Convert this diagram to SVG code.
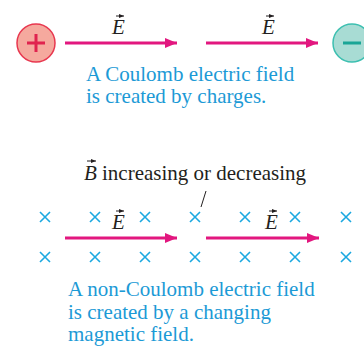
<svg xmlns="http://www.w3.org/2000/svg" width="364" height="348" viewBox="0 0 364 348">
<style>
text{font-family:'Liberation Serif','DejaVu Serif','Noto Serif',serif;font-size:21px}
.cap{fill:#1c9ad6}
.lbl{fill:#231f20}
.vec{font-style:italic;fill:#231f20}
.ar{stroke:#e2177f;stroke-width:3;fill:none}
.va{stroke:#231f20;stroke-width:1;fill:none}
.x{stroke:#1ba8e0;stroke-width:1.6;fill:none}
</style>
<defs>
<marker id="head" markerWidth="12" markerHeight="10" refX="12" refY="5" orient="auto" markerUnits="userSpaceOnUse">
<path d="M0,0 L12,5 L0,10 Z" fill="#e2177f"/>
</marker>
<marker id="vh" markerWidth="5" markerHeight="4" refX="5" refY="2" orient="auto" markerUnits="userSpaceOnUse">
<path d="M0,0 L5,2 L0,4 Z" fill="#231f20"/>
</marker>
<g id="xm"><path class="x" d="M-5,-5 L5,5 M5,-5 L-5,5"/></g>
</defs>

<g id="plus-charge">
<circle cx="36" cy="43" r="19" fill="#f5a99e" stroke="#e8374f" stroke-width="1.5"/>
<path d="M27,43 H45 M36,34 V52" stroke="#e0234e" stroke-width="3"/>
</g>
<g id="minus-charge">
<circle cx="352" cy="43" r="19" fill="#a8dcd4" stroke="#3cbfb0" stroke-width="1.5"/>
<path d="M343,43 H361" stroke="#1aa596" stroke-width="3"/>
</g>

<g id="connectors">
<line class="ar" x1="65" y1="43" x2="177" y2="43" marker-end="url(#head)"/>
<line class="ar" x1="206" y1="43" x2="318" y2="43" marker-end="url(#head)"/>
<line class="ar" x1="65" y1="238" x2="177" y2="238" marker-end="url(#head)"/>
<line class="ar" x1="206" y1="238" x2="319" y2="238" marker-end="url(#head)"/>
<line class="va" x1="206" y1="191" x2="201" y2="207"/>
</g>

<g id="e-labels">
<text class="vec" x="112" y="34">E</text>
<line class="va" x1="116" y1="16" x2="124" y2="16" marker-end="url(#vh)"/>
<text class="vec" x="262" y="34">E</text>
<line class="va" x1="266" y1="16" x2="274" y2="16" marker-end="url(#vh)"/>
<text class="vec" x="112" y="229">E</text>
<line class="va" x1="116" y1="211" x2="124" y2="211" marker-end="url(#vh)"/>
<text class="vec" x="265" y="229">E</text>
<line class="va" x1="269" y1="211" x2="277" y2="211" marker-end="url(#vh)"/>
</g>

<g id="caption-top">
<text class="cap" x="86" y="81">A Coulomb electric field</text>
<text class="cap" x="86" y="103">is created by charges.</text>
</g>

<g id="b-label">
<text class="vec" x="84" y="180">B</text>
<line class="va" x1="87" y1="161" x2="96" y2="161" marker-end="url(#vh)"/>
<text class="lbl" x="102" y="180">increasing or decreasing</text>
</g>

<g id="field-crosses">
<use href="#xm" x="45" y="217"/><use href="#xm" x="95" y="217"/><use href="#xm" x="145" y="217"/><use href="#xm" x="195" y="217"/><use href="#xm" x="245" y="217"/><use href="#xm" x="295" y="217"/><use href="#xm" x="346" y="217"/>
<use href="#xm" x="45" y="257"/><use href="#xm" x="95" y="257"/><use href="#xm" x="145" y="257"/><use href="#xm" x="195" y="257"/><use href="#xm" x="245" y="257"/><use href="#xm" x="295" y="257"/><use href="#xm" x="346" y="257"/>
</g>

<g id="caption-bottom">
<text class="cap" x="68" y="296">A non-Coulomb electric field</text>
<text class="cap" x="68" y="319">is created by a changing</text>
<text class="cap" x="68" y="341">magnetic field.</text>
</g>
</svg>
